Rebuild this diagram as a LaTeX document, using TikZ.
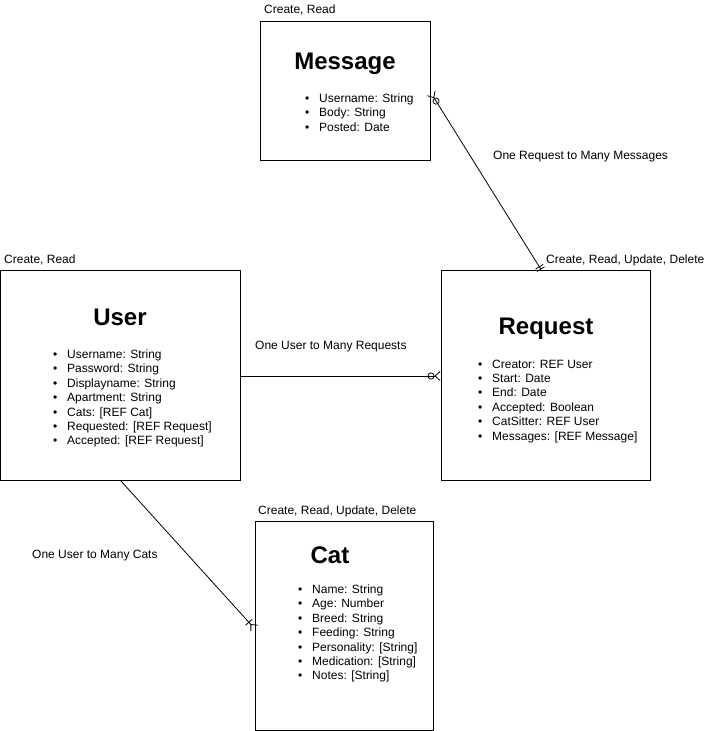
\documentclass[tikz,border=0pt]{standalone}
\usepackage{fontspec}
\setmainfont{Liberation Sans}
\usetikzlibrary{arrows.meta}

\newcommand{\erattr}[1]{\makebox[14pt][l]{\textbullet}#1}

\begin{document}
\begin{tikzpicture}[x=1pt,y=-1pt,
    entity/.style={draw, line width=1pt, rectangle, inner sep=0pt},
    title/.style={anchor=base, inner sep=0pt, font=\fontsize{24}{28}\selectfont\bfseries},
    attrs/.style={align=left, inner sep=0pt, anchor=north west, font=\fontsize{12}{14.4}\selectfont},
    note/.style={anchor=base west, inner sep=0pt, font=\fontsize{12}{14.4}\selectfont},
    rel/.style={line width=0.8pt}]
    \useasboundingbox (0,0) rectangle (711,731);

    % entities
    \node[entity, minimum width=170pt, minimum height=139pt] (msg) at (345.5,90.5) {};
    \node[entity, minimum width=240pt, minimum height=210pt] (user) at (120.5,375) {};
    \node[entity, minimum width=209pt, minimum height=210pt] (req) at (545.5,375) {};
    \node[entity, minimum width=178pt, minimum height=209pt] (cat) at (344,625.5) {};

    \node[title] (msgtitle) at (345,69) {Message};
    \node[title] (usertitle) at (120,325.5) {User};
    \node[title] (reqtitle) at (546,334.5) {Request};
    \node[title] (cattitle) at (330,563.5) {Cat};

    \node[attrs] (msgattrs) at (305,93.5) {\erattr{Username: String}\\ \erattr{Body: String}\\ \erattr{Posted: Date}};
    \node[attrs] (userattrs) at (53,349.5) {\erattr{Username: String}\\ \erattr{Password: String}\\ \erattr{Displayname: String}\\
        \erattr{Apartment: String}\\ \erattr{Cats: [REF Cat]}\\ \erattr{Requested: [REF Request]}\\ \erattr{Accepted: [REF Request]}};
    \node[attrs] (reqattrs) at (478,359.5) {\erattr{Creator: REF User}\\ \erattr{Start: Date}\\ \erattr{End: Date}\\
        \erattr{Accepted: Boolean}\\ \erattr{CatSitter: REF User}\\ \erattr{Messages: [REF Message]}};
    \node[attrs] (catattrs) at (298,584.5) {\erattr{Name: String}\\ \erattr{Age: Number}\\ \erattr{Breed: String}\\
        \erattr{Feeding: String}\\ \erattr{Personality: [String]}\\ \erattr{Medication: [String]}\\ \erattr{Notes: [String]}};

    % permissions
    \node[note] (msgops) at (264,13) {Create, Read};
    \node[note] (userops) at (4,263) {Create, Read};
    \node[note] (reqops) at (546,263) {Create, Read, Update, Delete};
    \node[note] (catops) at (258,514) {Create, Read, Update, Delete};

    % relations
    \draw[rel, {Straight Barb[reversed,length=5pt,width=9pt] Circle[open,length=7pt,width=7pt]}-{Bar[width=9pt,sep=2pt] Bar[width=9pt]}]
        ([yshift=-2.5pt]msg.east) -- ([xshift=-4.5pt]req.north);
    \draw[rel, -{Circle[open,length=7pt,width=7pt] Straight Barb[reversed,length=5pt,width=9pt]}] ([yshift=-1pt]user.east) -- ([yshift=-1pt]req.west);
    \draw[rel, -{Bar[width=9pt,sep=2pt] Straight Barb[reversed,length=5pt,width=9pt]}] (user.south) -- ([yshift=-3pt]cat.west);

    \node[note] (msgrel) at (493,159) {One Request to Many Messages};
    \node[note] (reqrel) at (255,349) {One User to Many Requests};
    \node[note] (catrel) at (32,558) {One User to Many Cats};
\end{tikzpicture}
\end{document}
